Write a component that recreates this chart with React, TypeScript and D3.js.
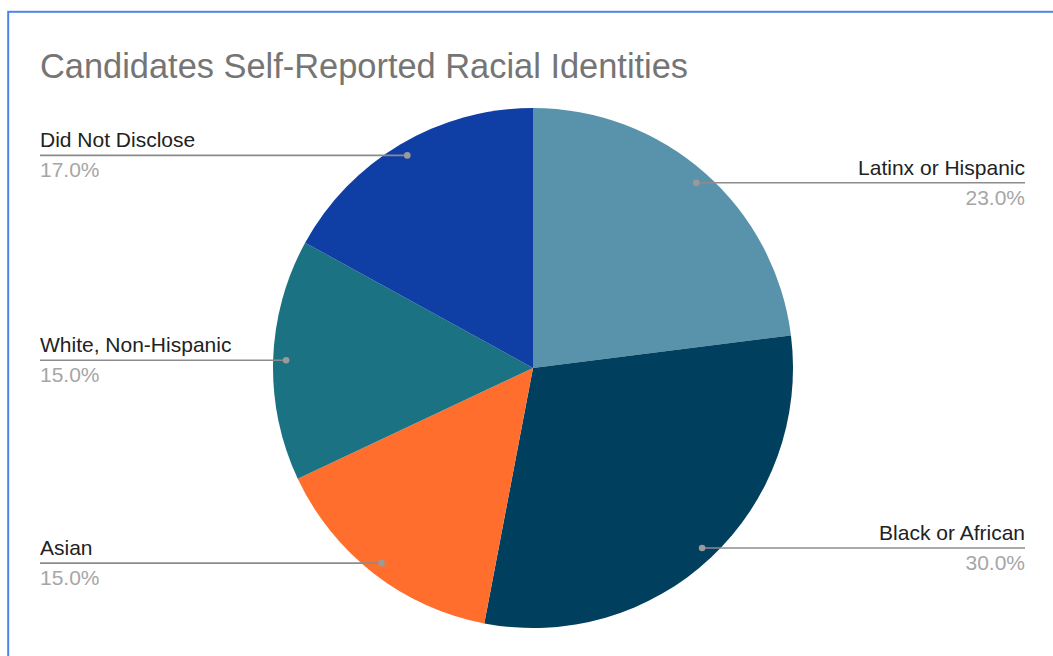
import React from "react";
import * as d3 from "d3";

const categories = ["Latinx or Hispanic", "Black or African", "Asian", "White, Non-Hispanic", "Did Not Disclose"];
const values = [23, 30, 15, 15, 17];
const colors = ["#5893ab", "#003f5d", "#ff6e2d", "#1b7282", "#0f3fa4"];
const title = "Candidates Self-Reported Racial Identities";

const W = 1053;
const H = 656;
const cx = 533;
const cy = 368;
const R = 260;
const dotR = 247;
const leftX = 40;
const rightX = 1025;
const FONT = "'Liberation Sans', Arial, sans-serif";

export default function App() {
  const total = d3.sum(values);
  const pie = d3.pie<number>().sort(null).value((d) => d);
  const arcs = pie(values);
  const arc = d3.arc<d3.PieArcDatum<number>>().innerRadius(0).outerRadius(R);

  return (
    <svg
      width={W}
      height={H}
      style={{ position: "absolute", left: 0, top: 0, display: "block", background: "#fff" }}
    >
      <rect x={8.2} y={11.8} width={W + 50} height={H + 50} fill="#fff" stroke="#4a86e8" strokeWidth={2} />
      <text x={40} y={77.5} fontFamily={FONT} fontSize={34.4} fill="#757575">
        {title}
      </text>
      <g transform={`translate(${cx},${cy})`}>
        {arcs.map((a, i) => (
          <path key={i} d={arc(a) || ""} fill={colors[i]} />
        ))}
      </g>
      {arcs.map((a, i) => {
        const mid = (a.startAngle + a.endAngle) / 2;
        const px = cx + Math.sin(mid) * dotR;
        const py = cy - Math.cos(mid) * dotR;
        const right = px > cx;
        const lx = right ? rightX : leftX;
        const anchor = right ? "end" : "start";
        const pct = ((values[i] / total) * 100).toFixed(1) + "%";
        return (
          <g key={i}>
            <line x1={px} y1={py} x2={lx} y2={py} stroke="#8c8c8c" strokeWidth={1.6} />
            <circle cx={px} cy={py} r={3.3} fill="#9a9a9a" />
            <text x={lx} y={py - 8} textAnchor={anchor} fontFamily={FONT} fontSize={21} fill="#222">
              {categories[i]}
            </text>
            <text x={lx} y={py + 22} textAnchor={anchor} fontFamily={FONT} fontSize={21} fill="#a6a6a6">
              {pct}
            </text>
          </g>
        );
      })}
    </svg>
  );
}
